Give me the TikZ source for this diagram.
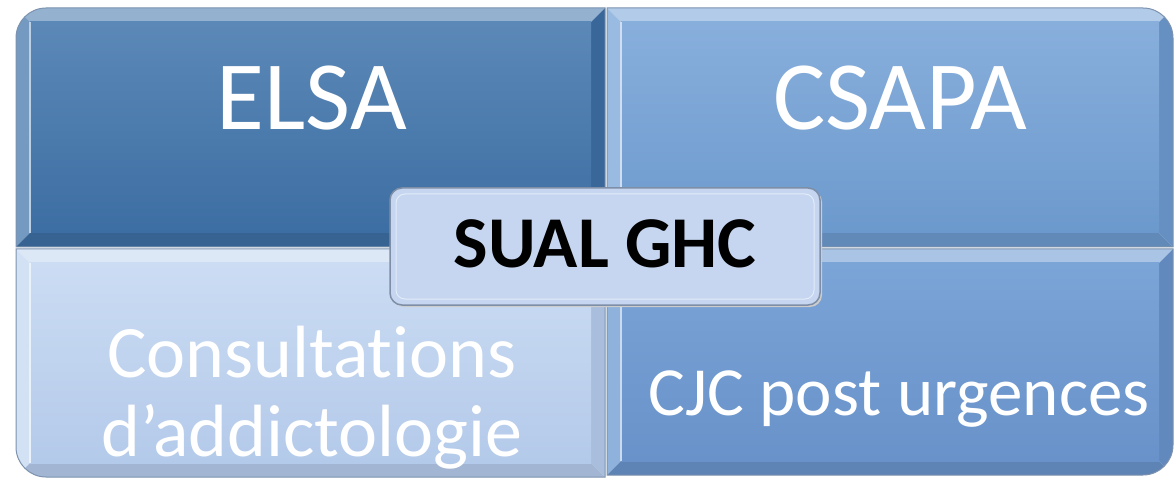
\documentclass[tikz,border=0pt]{standalone}
\usepackage{fontspec}
\setmainfont{Carlito}[Ligatures=NoCommon]
\definecolor{tlA}{HTML}{5B88B7}
\definecolor{tlB}{HTML}{3D6EA3}
\definecolor{trA}{HTML}{88AFDC}
\definecolor{trB}{HTML}{6C99CD}
\definecolor{blA}{HTML}{CBDCF3}
\definecolor{blB}{HTML}{B4CAEA}
\definecolor{brA}{HTML}{7BA4D7}
\definecolor{brB}{HTML}{6892C9}
\definecolor{edge}{HTML}{7C92AE}
\definecolor{boxfill}{HTML}{C6D6F0}
\definecolor{boxedge}{HTML}{7E8EA6}
\tikzset{
  quadtext/.style={text=white,anchor=base,inner sep=0pt},
  outline/.style={draw=edge,line width=1pt},
}
% #1 x1, #2 y1 (bottom), #3 x2, #4 y2 (top), #5 top colour, #6 bottom colour
\newcommand\bevelbands[6]{%
  \fill[#5!65!white] (#1,#4) -- (#3,#4) -- (#3-14,#4-14) -- (#1+14,#4-14) -- cycle;
  \fill[#5!85!white] (#1,#2) -- (#1,#4) -- (#1+14,#4-14) -- (#1+14,#2+14) -- cycle;
  \fill[#6!94!black] (#3,#2) -- (#3,#4) -- (#3-14,#4-14) -- (#3-14,#2+14) -- cycle;
  \fill[#6!90!black] (#1,#2) -- (#3,#2) -- (#3-14,#2+14) -- (#1+14,#2+14) -- cycle;
  \shade[top color=#5,bottom color=#6] (#1+14,#2+14) rectangle (#3-14,#4-14);
  \draw[white!60!#5,line width=1.2pt] (#1+14,#2+14) -- (#1+14,#4-14);
}
\begin{document}
\begin{tikzpicture}[x=1pt,y=1pt]
\useasboundingbox (0,0) rectangle (1176,480);
\fill[white] (0,0) rectangle (1176,480);
% top-left
\begin{scope}
  \clip (16,233) -- (16,442) arc[start angle=180,end angle=90,radius=30] -- (605,472) -- (605,233) -- cycle;
  \bevelbands{16}{233}{605}{472}{tlA}{tlB}
\end{scope}
\draw[outline] (16,233) -- (16,442) arc[start angle=180,end angle=90,radius=30] -- (605,472) -- (605,233) -- cycle;
% top-right
\begin{scope}
  \clip (607,233) -- (607,472) -- (1143,472) arc[start angle=90,end angle=0,radius=30] -- (1173,233) -- cycle;
  \bevelbands{607}{233}{1173}{472}{trA}{trB}
\end{scope}
\draw[outline] (607,233) -- (607,472) -- (1143,472) arc[start angle=90,end angle=0,radius=30] -- (1173,233) -- cycle;
% bottom-left
\begin{scope}
  \clip (16,231) -- (605,231) -- (605,3) -- (46,3) arc[start angle=270,end angle=180,radius=30] -- cycle;
  \bevelbands{16}{3}{605}{231}{blA}{blB}
\end{scope}
\draw[outline] (16,231) -- (605,231) -- (605,3) -- (46,3) arc[start angle=270,end angle=180,radius=30] -- cycle;
% bottom-right
\begin{scope}
  \clip (607,231) -- (1173,231) -- (1173,35) arc[start angle=0,end angle=-90,radius=30] -- (607,5) -- cycle;
  \bevelbands{607}{5}{1173}{231}{brA}{brB}
\end{scope}
\draw[outline] (607,231) -- (1173,231) -- (1173,35) arc[start angle=0,end angle=-90,radius=30] -- (607,5) -- cycle;
% texts
\node[quadtext,font=\fontsize{98}{98}\selectfont] (elsa) at (312,350) {ELSA};
\node[quadtext,font=\fontsize{98}{98}\selectfont] (csapa) at (900,350) {CSAPA};
\node[quadtext,font=\fontsize{74}{74}\selectfont] (cons1) at (312,103) {Consultations};
\node[quadtext,font=\fontsize{74}{74}\selectfont] (cons2) at (312,24) {d’addictologie};
\node[quadtext,font=\fontsize{69}{69}\selectfont] (cjc) at (899,65) {CJC post urgences};
% centre box
\fill[black!20,rounded corners=12] (392,173) rectangle (822,290);
\draw[boxedge,fill=boxfill,line width=1.5pt,rounded corners=12] (390,175) rectangle (820,292);
\draw[white!50!boxfill,line width=1pt,rounded corners=9] (396,181) rectangle (814,286);
\node[anchor=base,inner sep=0pt,font=\bfseries\fontsize{73}{73}\selectfont] (sual) at (605,212) {SUAL GHC};
\end{tikzpicture}
\end{document}
